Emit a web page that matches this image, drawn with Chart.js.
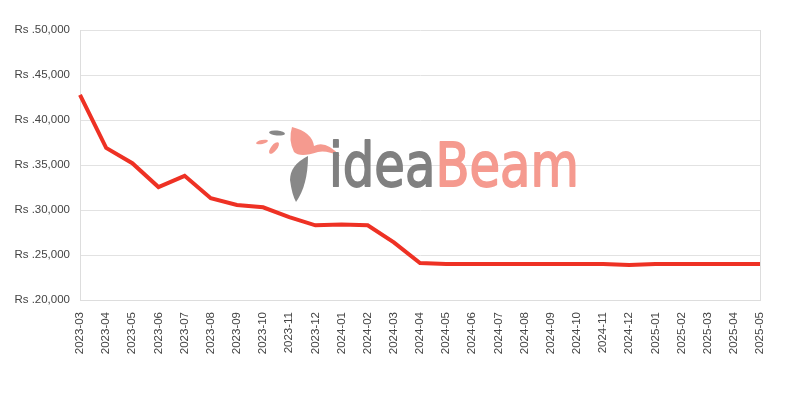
<!DOCTYPE html>
<html>
<head>
<meta charset="utf-8">
<script src="https://cdn.jsdelivr.net/npm/chart.js@4"></script>
<style>
  html, body { margin: 0; padding: 0; background: #fff; }
  #wrap { width: 800px; height: 400px; }
</style>
</head>
<body>
<div id="wrap"><canvas id="c" width="800" height="400"></canvas></div>
<script>
const months = ["2023-03","2023-04","2023-05","2023-06","2023-07","2023-08","2023-09","2023-10","2023-11","2023-12",
  "2024-01","2024-02","2024-03","2024-04","2024-05","2024-06","2024-07","2024-08","2024-09","2024-10","2024-11","2024-12",
  "2025-01","2025-02","2025-03","2025-04","2025-05"];
const prices = [42800, 36900, 35200, 32550, 33800, 31300, 30550, 30300, 29200, 28300,
  28400, 28300, 26400, 24100, 24000, 24000, 24000, 24000, 24000, 24000, 24000, 23900,
  24000, 24000, 24000, 24000, 24000];
const yTicks = [20000, 25000, 30000, 35000, 40000, 45000, 50000];

const fmt = v => "Rs ." + v.toLocaleString("en-US");

const watermark = {
  id: "watermark",
  beforeDatasetsDraw(chart) {
    const ctx = chart.ctx;
    ctx.save();
    // small leaves
    ctx.fillStyle = "#f59a8f";
    ctx.beginPath(); ctx.ellipse(262, 142, 6, 2, -0.2, 0, Math.PI*2); ctx.fill();
    ctx.beginPath(); ctx.ellipse(274, 148, 7, 3, -0.9, 0, Math.PI*2); ctx.fill();
    ctx.fillStyle = "#888";
    ctx.beginPath(); ctx.ellipse(277, 133, 8, 2.5, 0.1, 0, Math.PI*2); ctx.fill();
    // bird
    ctx.fillStyle = "#f59a8f";
    ctx.beginPath();
    ctx.moveTo(292, 127);
    ctx.quadraticCurveTo(312, 132, 314, 146);
    ctx.quadraticCurveTo(326, 140, 340, 156);
    ctx.quadraticCurveTo(326, 150, 318, 152);
    ctx.quadraticCurveTo(300, 158, 294, 152);
    ctx.quadraticCurveTo(288, 140, 292, 127);
    ctx.fill();
    // feather
    ctx.fillStyle = "#888";
    ctx.beginPath();
    ctx.moveTo(308, 156);
    ctx.quadraticCurveTo(290, 165, 290, 180);
    ctx.quadraticCurveTo(292, 195, 296, 202);
    ctx.quadraticCurveTo(308, 185, 308, 156);
    ctx.fill();
    // text
    ctx.textBaseline = "alphabetic";
    ctx.font = "60px 'DejaVu Sans'";
    const w1 = ctx.measureText("idea").width;
    const w2 = ctx.measureText("Beam").width;
    const sx = 250 / (w1 + w2);
    ctx.translate(329, 186);
    ctx.scale(sx, 1);
    ctx.lineWidth = 1.8;
    ctx.lineJoin = "round";
    ctx.fillStyle = ctx.strokeStyle = "#808080";
    ctx.fillText("idea", 0, 0);
    ctx.strokeText("idea", 0, 0);
    ctx.fillStyle = ctx.strokeStyle = "#f59a8f";
    ctx.fillText("Beam", w1, 0);
    ctx.strokeText("Beam", w1, 0);
    ctx.restore();
  }
};

new Chart(document.getElementById("c"), {
  type: "line",
  data: {
    labels: months,
    datasets: [{
      data: prices,
      borderColor: "#ee3124",
      borderWidth: 4,
      pointRadius: 0,
      pointHoverRadius: 0,
      tension: 0,
      fill: false
    }]
  },
  options: {
    responsive: false,
    animation: false,
    layout: { padding: { top: 30, right: 40, left: 0, bottom: 0 } },
    plugins: { legend: { display: false }, tooltip: { enabled: false } },
    scales: {
      x: {
        offset: false,
        afterFit(scale) { scale.height = 100; },
        grid: {
          drawTicks: false,
          color: ctx => (ctx.index === months.length - 1 ? "#dddddd" : "rgba(0,0,0,0)")
        },
        border: { color: "#dddddd" },
        ticks: {
          minRotation: 90, maxRotation: 90, autoSkip: false, padding: 12,
          color: "#444", font: { family: "'Liberation Sans', Arial", size: 11.5 }
        }
      },
      y: {
        min: 20000, max: 50000,
        afterFit(scale) { scale.width = 80; },
        afterBuildTicks(scale) { scale.ticks = yTicks.map(v => ({ value: v })); },
        grid: { drawTicks: false, color: "#e2e2e2" },
        border: { color: "#dddddd" },
        ticks: {
          padding: 10, color: "#444",
          font: { family: "'Liberation Sans', Arial", size: 11.5 },
          callback: v => fmt(v)
        }
      }
    }
  },
  plugins: [watermark]
});
</script>
</body>
</html>
